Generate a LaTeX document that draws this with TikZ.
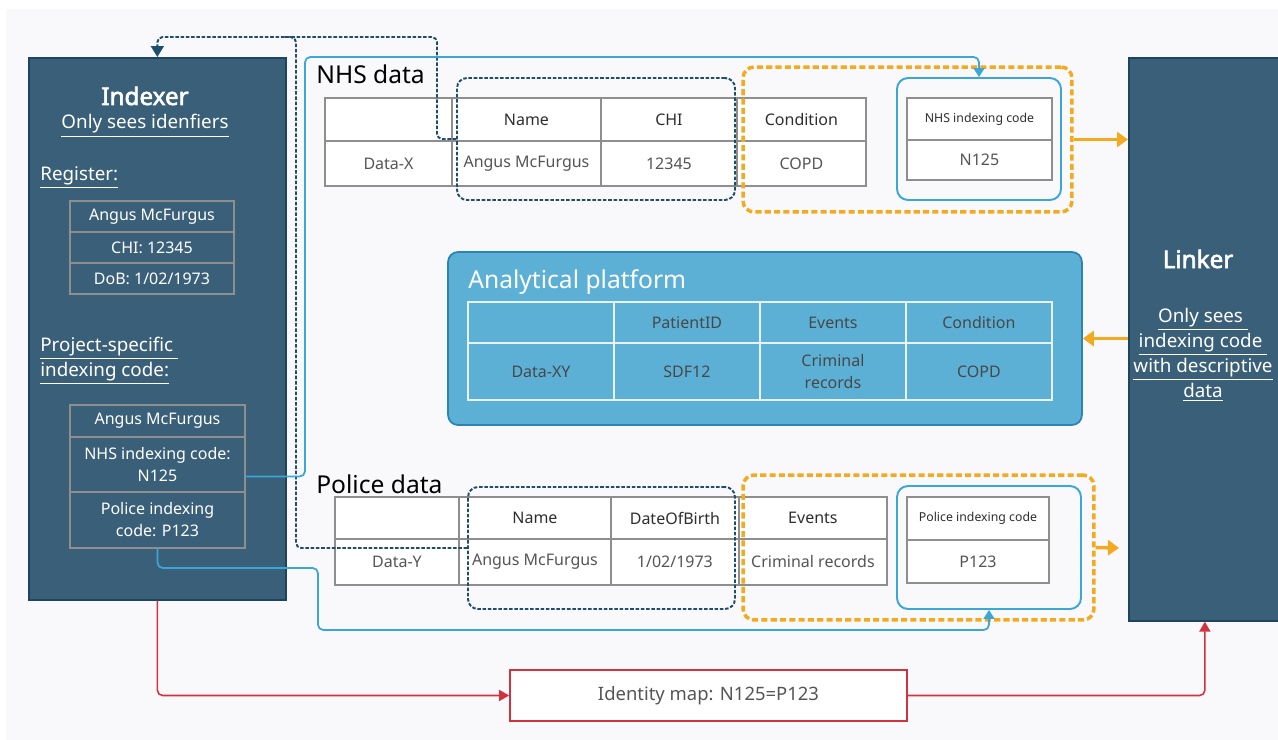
\documentclass[tikz,border=0pt]{standalone}
\usepackage{fontspec}
\setmainfont{Noto Sans}[BoldFont={Noto Sans},BoldFeatures={FakeBold=2.5}]
\usepackage{xcolor}
\usepackage{tikz}
\usetikzlibrary{arrows.meta,positioning}

\definecolor{agentfill}{HTML}{3A5F78}
\definecolor{agentline}{HTML}{1D4562}
\definecolor{navy}{HTML}{1F4D6E}
\definecolor{sky}{HTML}{3BA7D9}
\definecolor{platfill}{HTML}{5CB0D6}
\definecolor{platline}{HTML}{2B84B4}
\definecolor{amber}{HTML}{F3AA1E}
\definecolor{mapred}{HTML}{D2323E}
\definecolor{cellline}{HTML}{8E8E8E}
\definecolor{headtext}{HTML}{2E2E2E}
\definecolor{celltext}{HTML}{555555}
\definecolor{canvas}{HTML}{F9F9FB}

\begin{document}
\begin{tikzpicture}[
  x=0.02cm, y=-0.02cm,
  agent/.style={draw=agentline,fill=agentfill,line width=1pt,anchor=north west},
  boss/.style={font=\fontsize{13.8}{16}\selectfont\bfseries,text=white,inner sep=0pt},
  ttl/.style={font=\fontsize{14}{16}\selectfont,inner sep=0pt},
  lblw/.style={font=\fontsize{10.7}{14.2}\selectfont,text=white,inner sep=0pt},
  cell/.style={draw=cellline,line width=1pt,fill=white,outer sep=0pt,inner sep=1pt,
               align=center,text=celltext,font=\fontsize{9.1}{12.5}\selectfont},
  head/.style={cell,text=headtext},
  codehead/.style={head,font=\fontsize{7}{9}\selectfont},
  icell/.style={cell,fill=none,text=white},
  pcell/.style={cell,draw=white!85!platfill,fill=none,text=celltext!85!black},
  navybox/.style={draw=navy,line width=1.1pt,dash pattern=on 2pt off 1pt,rounded corners=2mm},
  amberbox/.style={draw=amber,line width=2pt,dash pattern=on 3.5pt off 1.8pt,rounded corners=2.2mm},
  skybox/.style={draw=sky,line width=1.1pt,rounded corners=2.2mm},
  platbox/.style={draw=platline,fill=platfill,line width=1pt,rounded corners=2mm},
  mapbox/.style={draw=mapred,line width=1pt,fill=white,text=celltext,
                 font=\fontsize{10.5}{13}\selectfont},
  navyarr/.style={navy,line width=1.1pt,dash pattern=on 2pt off 1pt,rounded corners=3pt},
  skyarr/.style={sky,line width=1pt,rounded corners=3pt,-{Triangle[length=1.8mm,width=2.2mm]}},
  amberarr/.style={amber,line width=2pt,-{Triangle[length=2.2mm,width=3mm]}},
  redarr/.style={mapred,line width=0.9pt,rounded corners=3pt,-{Triangle[length=2mm,width=2.2mm]}}
]
\useasboundingbox (0,0) rectangle (1278,740);
\fill[white] (0,0) rectangle (1278,740);
\fill[canvas] (6,9) rectangle (1278,740);

% indexer
\node[agent,minimum width=5.14cm,minimum height=10.84cm] (indexer) at (28,57) {};
\node[boss,anchor=base] (idxname) at (145,105) {Indexer};
\node[lblw,anchor=base] (idxsees) at (145,129) {\underline{Only sees idenfiers}};
\node[lblw,anchor=base west] (reglbl) at (40,180) {\underline{Register:}};
\node[icell,anchor=north west,minimum width=3.28cm,minimum height=0.62cm] (regA) at (70,201) {Angus McFurgus};
\node[icell,below=0pt of regA,minimum width=3.28cm,minimum height=0.62cm] (regB) {CHI: 12345};
\node[icell,below=0pt of regB,minimum width=3.28cm,minimum height=0.62cm] (regC) {DoB: 1/02/1973};
\node[lblw,anchor=west,align=left] (projlbl) at (40,361) {\underline{Project-specific\ }\\\underline{indexing code:}};
\node[icell,anchor=north west,minimum width=3.5cm,minimum height=0.64cm] (projA) at (70,405) {Angus McFurgus};
\node[icell,below=0pt of projA,minimum width=3.5cm,minimum height=1.1cm] (projB) {NHS indexing code:\\N125};
\node[icell,below=0pt of projB,minimum width=3.5cm,minimum height=1.12cm] (projC) {Police indexing\\code: P123};

% linker
\node[agent,minimum width=3.04cm,minimum height=11.26cm] (linker) at (1128,57) {};
\node[boss,anchor=base] (lnkname) at (1198,268) {Linker};
\node[lblw,align=center] (lnksees) at (1203,355) {\underline{Only sees\ }\\\underline{indexing code\ }\\\underline{with descriptive}\\\underline{data}};

% NHS data
\node[ttl,anchor=base west] (nhsttl) at (316,84) {NHS data};
\node[head,anchor=north west,minimum width=2.54cm,minimum height=0.86cm] (nhsH1) at (325,98) {};
\node[head,right=0pt of nhsH1,minimum width=2.98cm,minimum height=0.86cm] (nhsH2) {Name};
\node[head,right=0pt of nhsH2,minimum width=2.72cm,minimum height=0.86cm] (nhsH3) {CHI};
\node[head,right=0pt of nhsH3,minimum width=2.58cm,minimum height=0.86cm] (nhsH4) {Condition};
\node[cell,below=0pt of nhsH1,minimum width=2.54cm,minimum height=0.9cm] (nhsD1) {Data-X};
\node[cell,below=0pt of nhsH2,minimum width=2.98cm,minimum height=0.9cm] (nhsD2) {Angus McFurgus};
\node[cell,below=0pt of nhsH3,minimum width=2.72cm,minimum height=0.9cm] (nhsD3) {12345};
\node[cell,below=0pt of nhsH4,minimum width=2.58cm,minimum height=0.9cm] (nhsD4) {COPD};
\node[codehead,anchor=north west,minimum width=2.9cm,minimum height=0.84cm] (nhscodeH) at (907,98) {NHS indexing code};
\node[cell,below=0pt of nhscodeH,minimum width=2.9cm,minimum height=0.8cm] (nhscodeD) {N125};
\node[navybox,minimum width=5.56cm,minimum height=2.44cm] (nhsdash) at (596,139) {};
\node[amberbox,minimum width=6.58cm,minimum height=2.9cm] (nhsamber) at (907.5,139.5) {};
\node[skybox,minimum width=3.28cm,minimum height=2.44cm] (nhsblue) at (979,139) {};

% analytical platform
\node[platbox,minimum width=12.68cm,minimum height=3.46cm] (platform) at (765,338.5) {};
\node[ttl,text=white,anchor=base west] (platttl) at (468,288) {Analytical platform};
\node[pcell,anchor=north west,minimum width=2.92cm,minimum height=0.82cm] (platH1) at (468,302) {};
\node[pcell,right=0pt of platH1,minimum width=2.92cm,minimum height=0.82cm] (platH2) {PatientID};
\node[pcell,right=0pt of platH2,minimum width=2.92cm,minimum height=0.82cm] (platH3) {Events};
\node[pcell,right=0pt of platH3,minimum width=2.92cm,minimum height=0.82cm] (platH4) {Condition};
\node[pcell,below=0pt of platH1,minimum width=2.92cm,minimum height=1.14cm] (platD1) {Data-XY};
\node[pcell,below=0pt of platH2,minimum width=2.92cm,minimum height=1.14cm] (platD2) {SDF12};
\node[pcell,below=0pt of platH3,minimum width=2.92cm,minimum height=1.14cm] (platD3) {Criminal\\records};
\node[pcell,below=0pt of platH4,minimum width=2.92cm,minimum height=1.14cm] (platD4) {COPD};

% police data
\node[ttl,anchor=base west] (polttl) at (316,493) {Police data};
\node[head,anchor=north west,minimum width=2.48cm,minimum height=0.84cm] (polH1) at (335,497) {};
\node[head,right=0pt of polH1,minimum width=3.04cm,minimum height=0.84cm] (polH2) {Name};
\node[head,right=0pt of polH2,minimum width=2.56cm,minimum height=0.84cm] (polH3) {DateOfBirth};
\node[head,right=0pt of polH3,minimum width=2.96cm,minimum height=0.84cm] (polH4) {Events};
\node[cell,below=0pt of polH1,minimum width=2.48cm,minimum height=0.92cm] (polD1) {Data-Y};
\node[cell,below=0pt of polH2,minimum width=3.04cm,minimum height=0.92cm] (polD2) {Angus McFurgus};
\node[cell,below=0pt of polH3,minimum width=2.56cm,minimum height=0.92cm] (polD3) {1/02/1973};
\node[cell,below=0pt of polH4,minimum width=2.96cm,minimum height=0.92cm] (polD4) {Criminal records};
\node[codehead,anchor=north west,minimum width=2.84cm,minimum height=0.86cm] (polcodeH) at (907,497) {Police indexing code};
\node[cell,below=0pt of polcodeH,minimum width=2.84cm,minimum height=0.86cm] (polcodeD) {P123};
\node[navybox,minimum width=5.34cm,minimum height=2.44cm] (poldash) at (601.5,548) {};
\node[amberbox,minimum width=7.02cm,minimum height=2.9cm] (polamber) at (918.5,547.5) {};
\node[skybox,minimum width=3.68cm,minimum height=2.46cm] (polblue) at (989,547.5) {};

% identity map
\node[mapbox,minimum width=7.94cm,minimum height=1.02cm] (idmap) at (708.5,695.5) {Identity map: N125=P123};

% connectors
\coordinate (navytop) at (437,37);
\coordinate (navyjoin) at (296,37);
\coordinate (navyjoinL) at (284,37);
\coordinate (skytop) at (305,57);
\coordinate (skybend) at (318,568);
\coordinate (skylow) at (318,630);
\coordinate (amberend) at (1119,548);

\draw[navyarr,-{Triangle[length=2.2mm,width=2.6mm]}] (nhsdash.west) -| (navytop) -| (indexer.north);
\draw[navyarr] (poldash.west) -| (navyjoin) -- (navyjoinL);
\draw[skyarr] ([yshift=-0.24cm]projB.east) -| (skytop) -| (nhsblue.north);
\draw[skyarr] (projC.south) |- (skybend) -- (skylow) -| (polblue.south);
\draw[amberarr] (nhsamber.east) -- (nhsamber.east -| linker.west);
\draw[amberarr] (polamber.east) -- (amberend);
\draw[amberarr] (linker.west |- platform.east) -- (platform.east);
\draw[redarr] (indexer.south) |- (idmap.west);
\draw[redarr] (idmap.east) -| (linker.south);
\end{tikzpicture}
\end{document}
